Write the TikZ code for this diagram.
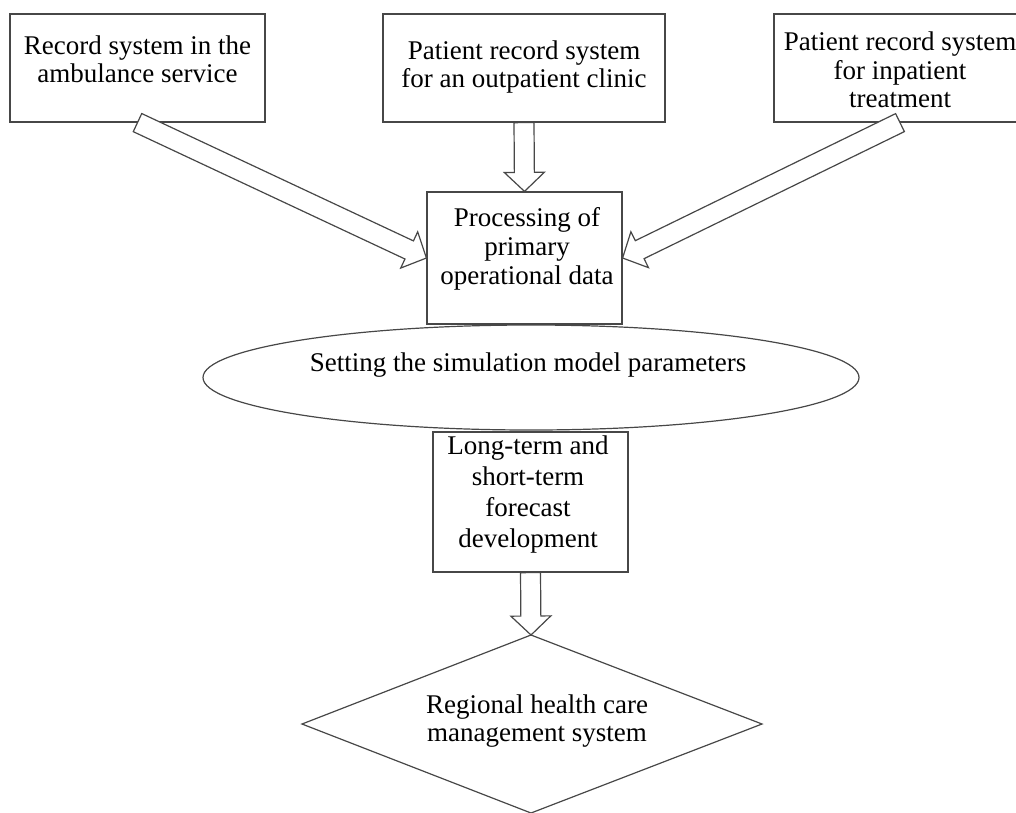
\documentclass[tikz,border=0pt]{standalone}
\usepackage{fontspec}
\setmainfont{Liberation Serif}
\usetikzlibrary{calc,shapes.geometric}
\tikzset{
  ln/.style={draw=black!72, line width=1.2pt},
  box/.style={ln, rectangle, inner sep=0pt, fill=white},
  txt/.style={anchor=base, inner sep=0pt, text=black, font=\fontsize{27}{28}\selectfont},
  arr/.style={ln, fill=white, line join=miter},
}
\newcommand\blockarrow[2]{%
  \coordinate (hb) at ($(#2)!19pt!(#1)$);
  \draw[arr] ($(#1)!10pt!90:(#2)$) -- ($(hb)!10pt!-90:(#1)$) -- ($(hb)!20pt!-90:(#1)$) -- (#2)
     -- ($(hb)!20pt!90:(#1)$) -- ($(hb)!10pt!90:(#1)$) -- ($(#1)!10pt!-90:(#2)$) -- cycle;
}
\begin{document}
\begin{tikzpicture}[x=1pt,y=-1pt]
\useasboundingbox (0,0) rectangle (1016,812);
% boxes
\node[box, minimum width=255pt, minimum height=108pt] (b1) at (137.5,68) {};
\node[box, minimum width=282pt, minimum height=108pt] (b2) at (524,68) {};
\node[box, minimum width=252pt, minimum height=108pt] (b3) at (900,68) {};
\node[box, minimum width=195pt, minimum height=132pt] (proc) at (524.5,258) {};
\node[ln, ellipse, inner sep=0pt, minimum width=656pt, minimum height=105pt] (ell) at (531,377.5) {};
\node[box, minimum width=195pt, minimum height=140pt] (lt) at (530.5,502) {};
% diamond
\coordinate (dtop) at (531,635);
\coordinate (dright) at (762,724);
\coordinate (dbot) at (531,813);
\coordinate (dleft) at (302,724);
\draw[ln] (dtop) -- (dright) -- (dbot) -- (dleft) -- cycle;
% texts
\node[txt] (t11) at (137.5,54) {Record system in the};
\node[txt] (t12) at (137.5,82) {ambulance service};
\node[txt] (t21) at (524,59) {Patient record system};
\node[txt] (t22) at (524,87) {for an outpatient clinic};
\node[txt] (t31) at (900,50) {Patient record system};
\node[txt] (t32) at (900,79) {for inpatient};
\node[txt] (t33) at (900,107) {treatment};
\node[txt] (p1) at (527,226) {Processing of};
\node[txt] (p2) at (527,255) {primary};
\node[txt] (p3) at (527,284) {operational data};
\node[txt] (e1) at (528,371) {Setting the simulation model parameters};
\node[txt] (l1) at (528,454) {Long-term and};
\node[txt] (l2) at (528,485) {short-term};
\node[txt] (l3) at (528,516) {forecast};
\node[txt] (l4) at (528,547) {development};
\node[txt] (d1) at (537,713) {Regional health care};
\node[txt] (d2) at (537,741) {management system};
% arrows
\blockarrow{b1.south}{proc.west}
\blockarrow{b2.south}{proc.north}
\blockarrow{b3.south}{proc.east}
\blockarrow{lt.south}{dtop}
\end{tikzpicture}
\end{document}
